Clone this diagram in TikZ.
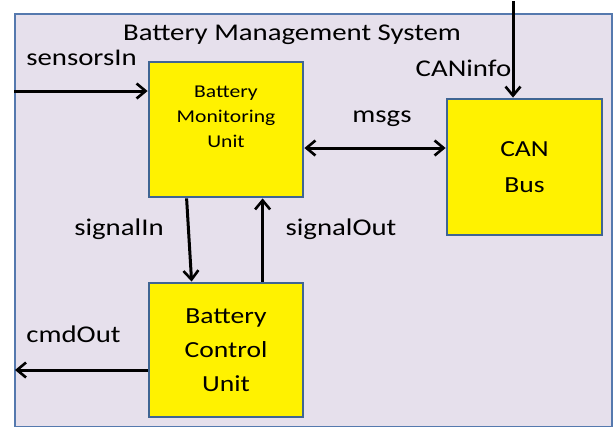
\documentclass[tikz,border=0pt]{standalone}
\usepackage{fontspec}
\setmainfont[FakeStretch=1.2]{Carlito}
\usetikzlibrary{arrows.meta,calc}

\definecolor{bmsfill}{HTML}{E6E0EC}
\definecolor{bmsline}{HTML}{5579AE}
\definecolor{unitline}{HTML}{3F6593}

\tikzset{
  unit/.style={draw=unitline, line width=2.8pt, fill=yellow, align=center,
    minimum width=154pt, inner sep=0pt},
  barb/.tip={Straight Barb[length=9pt,width=15pt,line width=2.6pt]},
  sig/.style={-barb, line width=3pt},
  lbl/.style={font=\fontsize{24}{28}\selectfont, inner sep=0pt, anchor=base}
}

\begin{document}
\begin{tikzpicture}[x=1pt, y=-1pt]
    % Rahmen
    \useasboundingbox (0,0) rectangle (613,426);
    \fill[white] (0,0) rectangle (613,426);
    \node[draw=bmsline, line width=2.2pt, fill=bmsfill, anchor=north west,
      minimum width=597pt, minimum height=413pt, inner sep=0pt] (bms) at (14,13) {};
    \node[lbl] (title) at (292,40) {Battery Management System};

    % Einheiten
    \node[unit, minimum height=135pt, font=\fontsize{18}{25}\selectfont] (bmu) at (226,129.5)
      {Battery\\Monitoring\\Unit\\\mbox{}};
    \node[unit, minimum height=134pt, font=\fontsize{23}{34}\selectfont] (bcu) at (226,350)
      {Battery\\Control\\Unit};
    \node[unit, minimum width=155pt, minimum height=136pt, font=\fontsize{23}{36}\selectfont] (can) at (524.5,167)
      {CAN\\Bus};

    % freie Enden
    \coordinate (sensIn) at (14,91);
    \coordinate (cmdEnd) at (15,370);
    \coordinate (canTop) at (513,1);

    % Signale
    \draw[sig] (sensIn) -- (sensIn -| bmu.west);
    \draw[sig] (canTop) -- (canTop |- can.north);
    \draw[sig, barb-barb] ($(bmu.east)+(0,18.5)$) -- ($(can.west)+(0,-19)$);
    \draw[sig] ($(bmu.south west)+(39,0)$) -- ($(bcu.north west)+(44,0)$);
    \draw[sig] ($(bcu.north west)+(115,0)$) -- ($(bmu.south west)+(115,0)$);
    \draw[sig] (cmdEnd -| bcu.west) -- (cmdEnd);

    % Beschriftungen
    \node[lbl] (lsens) at (81.5,65) {sensorsIn};
    \node[lbl] (lcan) at (463.5,76) {CANinfo};
    \node[lbl] (lmsgs) at (382,122.5) {msgs};
    \node[lbl] (lsigin) at (119,235) {signalIn};
    \node[lbl] (lsigout) at (341,235) {signalOut};
    \node[lbl] (lcmd) at (73.5,342.5) {cmdOut};
\end{tikzpicture}
\end{document}
